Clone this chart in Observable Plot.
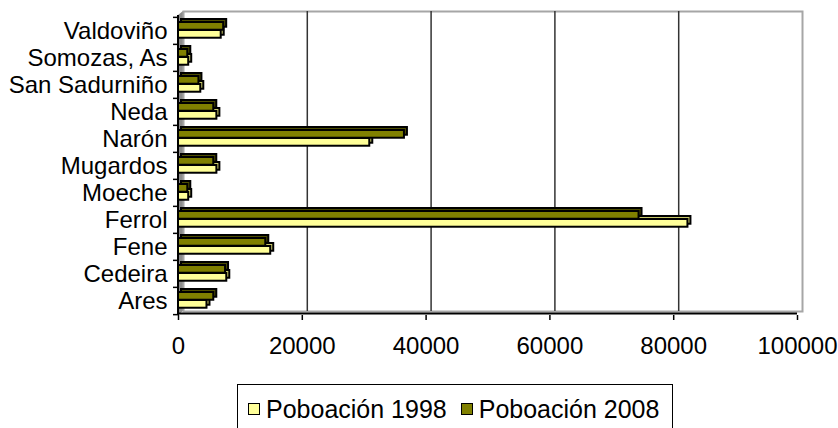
<!DOCTYPE html>
<html><head><meta charset="utf-8">
<script src="https://cdn.jsdelivr.net/npm/d3@7"></script>
<script src="https://cdn.jsdelivr.net/npm/@observablehq/plot@0.6"></script>
<style>
body{margin:0;background:#fff;font-family:"Liberation Sans",Arial,sans-serif;}
#legend{margin-left:237px;margin-top:4px;width:434px;height:50px;border:1px solid #000;display:flex;align-items:flex-start;font-size:25px;line-height:26px;color:#000;}
.item{display:flex;align-items:center;margin-top:11px;}
.sw{width:10px;height:10px;border:1px solid #000;margin-right:6px;}
</style></head><body><div id="chart"></div><div id="legend"></div>
<script>
const municipalities = ["Valdoviño","Somozas, As","San Sadurniño","Neda","Narón","Mugardos","Moeche","Ferrol","Fene","Cedeira","Ares"];
const pop1998 = [6900,1650,3600,6200,30900,6200,1650,82300,14900,7800,4600];
const pop2008 = [7300,1500,3300,5700,36500,5700,1500,74400,14100,7600,5700];
const seriesNames = ["Poboación 1998","Poboación 2008"];
const seriesColors = ["#FFFF99","#808000"];
const depthColors = ["#c9c96a","#4d4d00"];
const xTicks = [0,20000,40000,60000,80000,100000];
const gridTicks = [20000,40000,60000,80000];

const H = 380, MT = 15, MB = 65, ML = 178, MR = 41;
const bw = (H - MT - MB) / municipalities.length;
const FONT = '"Liberation Sans", Arial, sans-serif';

const rows98 = municipalities.map((m,i)=>({m, v:pop1998[i]}));
const rows08 = municipalities.map((m,i)=>({m, v:pop2008[i]}));

const ins98 = {insetTop:13, insetBottom:bw-21};
const ins08 = {insetTop:5, insetBottom:bw-13};

function walls(index, scales, values, dims){
  const g = d3.create("svg:g");
  const x0 = dims.marginLeft;
  const y0 = dims.marginTop, y1 = dims.height - dims.marginBottom;
  g.append("path").attr("d",`M${x0},${y0}L${x0+5},${y0-4}L${x0+5},${y1-4}L${x0},${y1}Z`).attr("fill","#8c8c8c");
  return g.node();
}
function axesLines(index, scales, values, dims){
  const g = d3.create("svg:g");
  const x0 = dims.marginLeft, x1 = dims.width - dims.marginRight;
  const y0 = dims.marginTop, y1 = dims.height - dims.marginBottom;
  g.append("line").attr("x1",x0).attr("x2",x1).attr("y1",y1-1.5).attr("y2",y1-1.5).attr("stroke","#000").attr("stroke-width",2);
  g.append("line").attr("x1",x0).attr("x2",x0).attr("y1",y0).attr("y2",y1).attr("stroke","#000").attr("stroke-width",2);
  return g.node();
}

const chart = Plot.plot({
  width: 838, height: H,
  marginTop: MT, marginBottom: MB, marginLeft: ML, marginRight: MR,
  style: {fontFamily: FONT, fontSize: "24px", color: "#000", background: "#fff"},
  x: {domain: [0, 100000], axis: null},
  y: {domain: municipalities, padding: 0, axis: null},
  marks: [
    walls,
    Plot.frame({stroke: "#a6a6a6", strokeWidth: 2, dx: 5, dy: -4}),
    Plot.gridX(gridTicks, {stroke: "#333", strokeOpacity: 1, strokeWidth: 1.5, dx: 5, dy: -4}),
    Plot.barX(rows98, {y: "m", x: "v", fill: depthColors[0], stroke: "#000", strokeWidth: 2, dx: 3, dy: -3, ...ins98}),
    Plot.barX(rows08, {y: "m", x: "v", fill: depthColors[1], stroke: "#000", strokeWidth: 2, dx: 3, dy: -3, ...ins08}),
    Plot.barX(rows98, {y: "m", x: "v", fill: seriesColors[0], stroke: "#000", strokeWidth: 2, ...ins98}),
    Plot.barX(rows08, {y: "m", x: "v", fill: seriesColors[1], stroke: "#000", strokeWidth: 2, ...ins08}),
    axesLines,
    Plot.axisY({tickSize: 0, tickPadding: 11, fontSize: 24, label: null}),
    Plot.axisY({tickSize: 5, tickFormat: () => "", dy: -bw/2, strokeWidth: 1.5, label: null}),
    Plot.axisY([municipalities[municipalities.length-1]], {tickSize: 5, tickFormat: () => "", dy: bw/2, strokeWidth: 1.5, label: null}),
    Plot.axisX(xTicks, {tickSize: 5, tickPadding: 16, fontSize: 24, strokeWidth: 1.5, label: null, tickFormat: d => String(d)})
  ]
});
document.getElementById("chart").appendChild(chart);

const legend = document.getElementById("legend");
seriesNames.forEach((name, i) => {
  const it = document.createElement("div");
  it.className = "item";
  it.style.marginLeft = i === 0 ? "10px" : "14px";
  const sw = document.createElement("div");
  sw.className = "sw";
  sw.style.background = seriesColors[i];
  const t = document.createElement("span");
  t.textContent = name;
  it.appendChild(sw); it.appendChild(t);
  legend.appendChild(it);
});
</script></body></html>
